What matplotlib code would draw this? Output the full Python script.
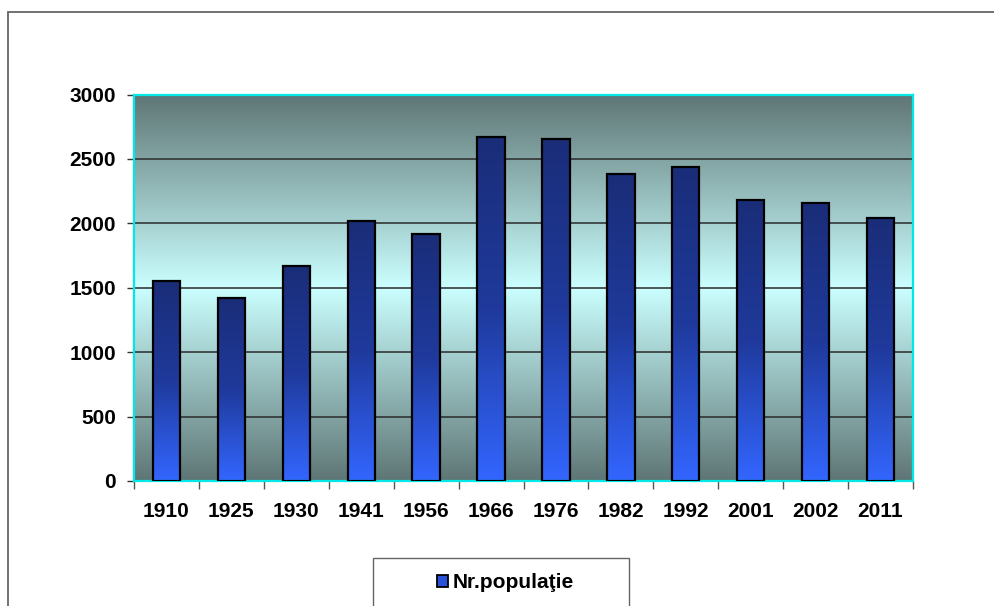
import numpy as np
import matplotlib
matplotlib.use("Agg")
import matplotlib.pyplot as plt
from matplotlib.patches import Rectangle
from matplotlib.colors import LinearSegmentedColormap

plt.rcParams['font.family'] = ['Liberation Sans', 'DejaVu Sans']
plt.rcParams['font.weight'] = 'bold'

years = ["1910", "1925", "1930", "1941", "1956", "1966",
         "1976", "1982", "1992", "2001", "2002", "2011"]
population = [1550, 1420, 1670, 2015, 1920, 2670,
              2655, 2380, 2435, 2180, 2155, 2040]
y_ticks = [0, 500, 1000, 1500, 2000, 2500, 3000]
legend_label = "Nr.populaţie"

W, H = 995, 606
fig = plt.figure(figsize=(W / 100, H / 100), dpi=100)
ax = fig.add_axes([134 / W, 1 - 481 / H, (913 - 134) / W, (481 - 94.5) / H])

# plot area background: dark -> light cyan -> dark
bg = LinearSegmentedColormap.from_list(
    "bg", [(0.0, "#5e7675"), (0.5, "#cbffff"), (1.0, "#5e7675")])
grad = np.linspace(0, 1, 256).reshape(-1, 1)
ax.imshow(grad, cmap=bg, extent=[0, 1, 0, 1], transform=ax.transAxes,
          aspect="auto", zorder=0, interpolation="bicubic")

x = np.arange(len(years))
bars = ax.bar(x, population, width=0.42, facecolor="none",
              edgecolor="black", linewidth=1.6, zorder=3)

bar_cmap = LinearSegmentedColormap.from_list(
    "barc", [(0.0, "#1a2d78"), (0.5, "#1f3a9c"), (1.0, "#3366ff")])
for b in bars:
    bx, by = b.get_x(), b.get_y()
    bw, bh = b.get_width(), b.get_height()
    im = ax.imshow(grad, cmap=bar_cmap, extent=[bx, bx + bw, by, by + bh],
                   aspect="auto", zorder=2, interpolation="bicubic")
    im.set_clip_path(b)

ax.set_xlim(-0.5, len(years) - 0.5)
ax.set_ylim(0, 3000)
ax.set_yticks(y_ticks)
ax.set_xticks(x)
ax.set_xticklabels(years)
ax.set_xticks(np.arange(len(years) + 1) - 0.5, minor=True)
ax.tick_params(axis="x", which="major", length=0, pad=15, labelsize=15)
ax.tick_params(axis="x", which="minor", length=6, width=1, color="#555555")
ax.tick_params(axis="y", length=5, width=1, color="#333333", pad=8, labelsize=15)

ax.yaxis.grid(True, color="#2a2a2a", linewidth=1.1)
ax.set_axisbelow(True)
for g in ax.get_ygridlines():
    g.set_zorder(1)

for s in ax.spines.values():
    s.set_color("#00e8e8")
    s.set_linewidth(1.6)

# outer chart border (runs off the right and bottom edges)
fig.patches.append(Rectangle((8 / W, -0.1), 1.1, 1 - 11.5 / H + 0.1,
                             transform=fig.transFigure, fill=False,
                             edgecolor="#666666", linewidth=1.3))

# legend frame (cut by the bottom edge)
fig.patches.append(Rectangle((373 / W, -0.1), (629 - 373) / W, 48 / H + 0.1,
                             transform=fig.transFigure, fill=False,
                             edgecolor="#666666", linewidth=1.0))
handle = Rectangle((0, 0), 1, 1, facecolor="#2a52d8", edgecolor="black",
                   linewidth=1.3)
fig.legend([handle], [legend_label], loc="center",
           bbox_to_anchor=(505 / W, 1 - 583 / H), frameon=False,
           fontsize=15, handlelength=0.55, handleheight=0.55,
           handletextpad=0.2)

fig.savefig("out.png", dpi=100)
